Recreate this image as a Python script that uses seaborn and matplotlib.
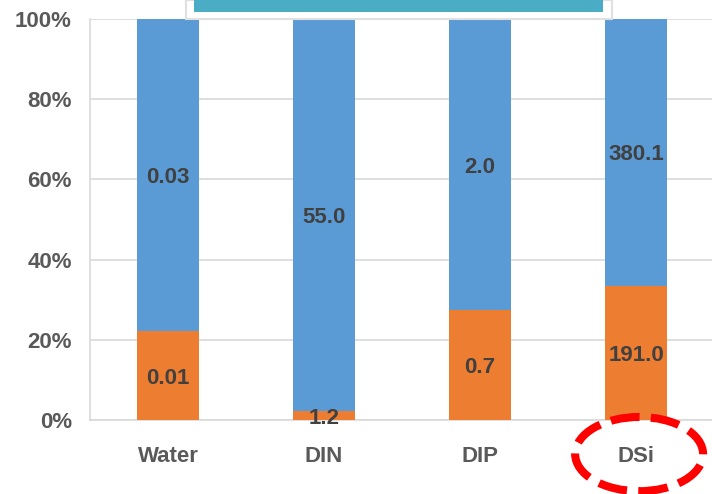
import matplotlib
matplotlib.use("Agg")
import matplotlib.pyplot as plt
from matplotlib.patches import Ellipse, Rectangle
import seaborn as sns
import pandas as pd

# Source data: two fractions per constituent, stacked to 100 %
categories = ["Water", "DIN", "DIP", "DSi"]
lower_values = [0.0085, 1.2, 0.74, 191.0]   # orange (bottom)
upper_values = [0.03, 55.0, 1.96, 380.1]    # blue (top)
decimals = [2, 1, 1, 1]
y_ticks = [0, 20, 40, 60, 80, 100]

BLUE = "#5B9BD5"
ORANGE = "#ED7D31"
GRID = "#D9D9D9"
TICK_COLOR = "#595959"
VALUE_COLOR = "#404040"
FS = 16

df = pd.DataFrame({"category": categories,
                   "lower": lower_values,
                   "upper": upper_values})
df["total"] = df["lower"] + df["upper"]
df["lower_pct"] = df["lower"] / df["total"] * 100
df["full_pct"] = 100.0

sns.set_theme(style="white")
plt.rcParams["font.family"] = ["Liberation Sans", "DejaVu Sans"]

fig = plt.figure(figsize=(7.12, 4.94), dpi=100)
ax = fig.add_axes([90 / 712, 74 / 494, 624 / 712, 401 / 494])

# full-height blue bars, orange share drawn over them
sns.barplot(data=df, x="category", y="full_pct", color=BLUE, width=0.4,
            saturation=1, ax=ax, zorder=2)
sns.barplot(data=df, x="category", y="lower_pct", color=ORANGE, width=0.4,
            saturation=1, ax=ax, zorder=3)
for p in ax.patches:
    p.set_linewidth(0)

ax.set_xlim(-0.5, 3.5)
ax.set_ylim(0, 100)
ax.set_yticks(y_ticks)
ax.set_yticklabels([f"{t}%" for t in y_ticks])
ax.set_xlabel("")
ax.set_ylabel("")
ax.yaxis.grid(True, color=GRID, linewidth=1.2, zorder=0)
ax.set_axisbelow(True)
ax.tick_params(axis="y", length=0, pad=13, labelsize=FS, labelcolor=TICK_COLOR)
ax.tick_params(axis="x", length=0, pad=19, labelsize=FS, labelcolor=TICK_COLOR)
for lab in ax.get_xticklabels() + ax.get_yticklabels():
    lab.set_fontweight("bold")

for side in ["top", "right"]:
    ax.spines[side].set_visible(False)
ax.spines["left"].set_color(GRID)
ax.spines["left"].set_linewidth(1.2)
ax.spines["bottom"].set_color(GRID)
ax.spines["bottom"].set_linewidth(1.2)

# value labels centred in each segment
for i, row in df.iterrows():
    d = decimals[i]
    lp = row["lower_pct"]
    ax.text(i, lp / 2, f"{row['lower']:.{d}f}", ha="center",
            va="center_baseline", fontsize=FS, fontweight="bold",
            color=VALUE_COLOR, zorder=5)
    ax.text(i, lp + (100 - lp) / 2, f"{row['upper']:.{d}f}", ha="center",
            va="center_baseline", fontsize=FS, fontweight="bold",
            color=VALUE_COLOR, zorder=5)

# dashed red ring around the DSi label
ring = Ellipse((3.02, -8.5), width=0.82, height=18.5, fill=False,
               edgecolor="#FF0000", linewidth=5.8, linestyle=(0, (3.6, 1.4)),
               transform=ax.transData, clip_on=False, zorder=6)
ax.add_patch(ring)

# title banner partly above the figure edge
banner_bg = Rectangle((186 / 712, 1 - 19 / 494), 426 / 712, 19 / 494,
                      transform=fig.transFigure, facecolor="white",
                      edgecolor="#E0E0E0", linewidth=1.5, zorder=10)
fig.add_artist(banner_bg)
banner = Rectangle((194 / 712, 1 - 12 / 494), 409 / 712, 14 / 494,
                   transform=fig.transFigure, facecolor="#4BACC6",
                   edgecolor="none", zorder=11)
fig.add_artist(banner)

fig.savefig("out.png", dpi=100)
